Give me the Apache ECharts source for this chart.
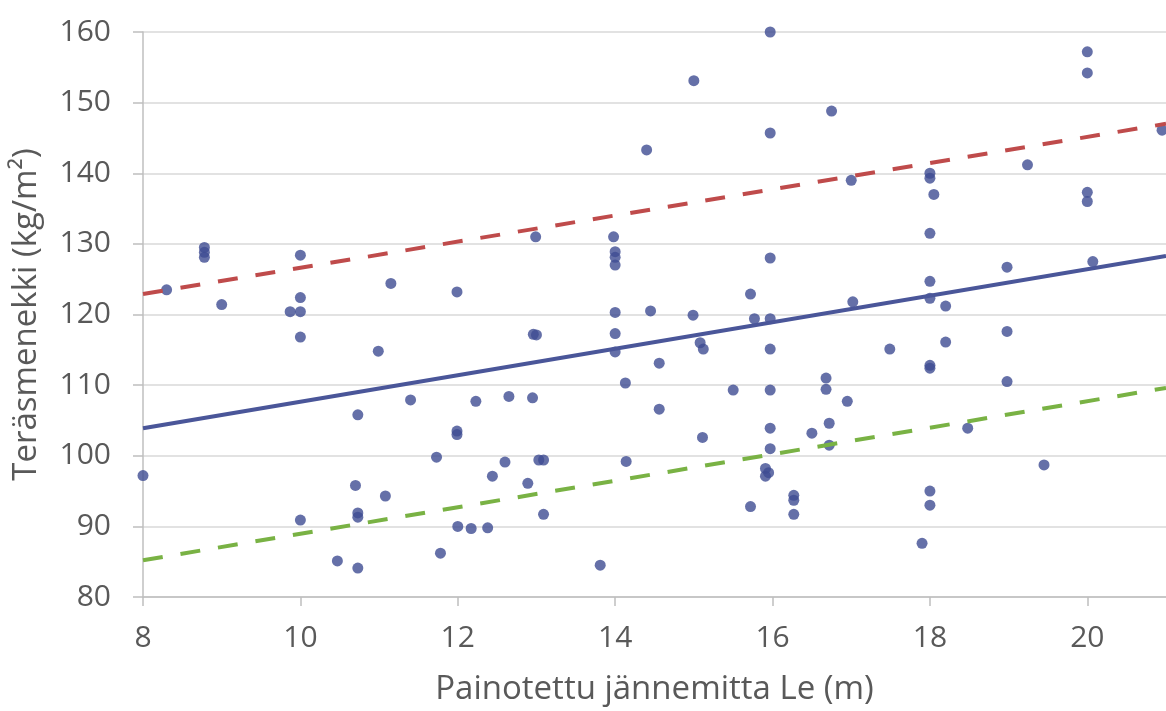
<!DOCTYPE html>
<html>
<head>
<meta charset="utf-8">
<script src="https://cdn.jsdelivr.net/npm/echarts@6/dist/echarts.min.js"></script>
<style>
  html, body { margin: 0; padding: 0; background: #fff; }
  #main { width: 1166px; height: 711px; }
</style>
</head>
<body>
<div id="main"></div>
<script>
// measured points: span Le (m) and steel use (kg/m2)
var spanX = [
    8.0, 8.3, 8.78, 8.78, 8.78, 9.0, 9.87, 10.0, 10.0, 10.0, 10.0, 10.0,
    10.47, 10.73, 10.7, 10.73, 10.73, 10.73, 10.99, 11.08, 11.15, 11.4, 11.73, 11.78,
    11.99, 11.99, 11.99, 12.0, 12.17, 12.23, 12.38, 12.44, 12.6, 12.65, 12.89, 12.95,
    12.96, 13.0, 12.99, 13.03, 13.09, 13.09, 13.81, 13.98, 14.0, 14.0, 14.0, 14.0,
    14.0, 14.0, 14.13, 14.14, 14.4, 14.45, 14.56, 14.56, 15.0, 14.99, 15.08, 15.12,
    15.11, 15.5, 15.72, 15.72, 15.77, 15.91, 15.95, 15.91, 15.97, 15.97, 15.97, 15.97,
    15.97, 15.97, 15.97, 15.97, 16.27, 16.27, 16.27, 16.5, 16.68, 16.68, 16.72, 16.72,
    16.75, 16.95, 17.0, 17.02, 17.49, 17.9, 18.0, 18.0, 18.05, 18.0, 18.0, 18.0,
    18.0, 18.0, 18.0, 18.0, 18.2, 18.2, 18.48, 18.98, 18.98, 18.98, 19.24, 19.45,
    20.0, 20.0, 20.0, 20.0, 20.07, 20.95
];
var steelY = [
    97.2, 123.5, 129.5, 128.8, 128.1, 121.4, 120.4, 120.4, 128.4, 122.4, 116.8, 90.9,
    85.1, 84.1, 95.8, 91.9, 91.3, 105.8, 114.8, 94.3, 124.4, 107.9, 99.8, 86.2,
    123.2, 103.5, 103.0, 90.0, 89.7, 107.7, 89.8, 97.1, 99.1, 108.4, 96.1, 108.2,
    117.2, 117.1, 131.0, 99.4, 99.4, 91.7, 84.5, 131.0, 128.9, 128.1, 127.0, 120.3,
    117.3, 114.7, 110.3, 99.2, 143.3, 120.5, 113.1, 106.6, 153.1, 119.9, 116.0, 115.1,
    102.6, 109.3, 122.9, 92.8, 119.4, 98.2, 97.6, 97.1, 160.0, 145.7, 128.0, 119.4,
    115.1, 109.3, 103.9, 101.0, 94.4, 93.7, 91.7, 103.2, 111.0, 109.4, 104.6, 101.5,
    148.8, 107.7, 139.0, 121.8, 115.1, 87.6, 140.0, 139.3, 137.0, 131.5, 124.7, 122.3,
    112.8, 112.4, 95.0, 93.0, 121.2, 116.1, 103.9, 126.7, 117.6, 110.5, 141.2, 98.7,
    157.2, 154.2, 137.3, 136.0, 127.5, 146.1
];

// trend line and its upper / lower bands, read at the ends of the axis
var lineX = [8, 21];
var trendY = [103.9, 128.3];
var upperY = [122.9, 147.0];
var lowerY = [85.2, 109.6];

var xTicks = [8, 10, 12, 14, 16, 18, 20];

function pairs(xs, ys) {
    return xs.map(function (x, i) { return [x, ys[i]]; });
}

var font = '"Open Sans", "Noto Sans", sans-serif';
var textGrey = '#595959';

var option;

option = {
    backgroundColor: '#fff',
    animation: false,
    grid: {
        left: 143,
        right: 0,
        top: 32,
        bottom: 114
    },
    xAxis: {
        type: 'value',
        min: 8,
        max: 21,
        interval: 2,
        name: 'Painotettu jännemitta Le (m)',
        nameLocation: 'middle',
        nameGap: 76,
        nameTextStyle: { color: textGrey, fontSize: 33, fontFamily: font },
        axisLine: { show: true, lineStyle: { color: '#bfbfbf', width: 1.5 } },
        axisTick: { show: true, length: 9, lineStyle: { color: '#bfbfbf', width: 1.5 } },
        axisLabel: {
            color: textGrey,
            fontSize: 30,
            fontFamily: font,
            margin: 26,
            showMaxLabel: false,
            formatter: function (v) {
                return xTicks.indexOf(v) >= 0 ? String(v) : '';
            }
        },
        splitLine: { show: false }
    },
    yAxis: {
        type: 'value',
        min: 80,
        max: 160,
        interval: 10,
        name: 'Teräsmenekki (kg/m²)',
        nameLocation: 'middle',
        nameGap: 100,
        nameTextStyle: { color: textGrey, fontSize: 33, fontFamily: font },
        axisLine: { show: true, lineStyle: { color: '#bfbfbf', width: 1.5 } },
        axisTick: { show: true, length: 10, lineStyle: { color: '#bfbfbf', width: 1.5 } },
        axisLabel: { color: textGrey, fontSize: 30, fontFamily: font, margin: 32 },
        splitLine: { show: true, lineStyle: { color: '#d9d9d9', width: 1.5 } }
    },
    series: [
        {
            name: 'Havainnot',
            type: 'scatter',
            symbol: 'circle',
            symbolSize: 11,
            itemStyle: { color: '#3e4c92' },
            data: pairs(spanX, steelY),
            z: 2
        },
        {
            name: 'Trendi',
            type: 'line',
            showSymbol: false,
            lineStyle: { color: '#4a5699', width: 4 },
            data: pairs(lineX, trendY),
            z: 3
        },
        {
            name: 'Yläraja',
            type: 'line',
            showSymbol: false,
            lineStyle: { color: '#bf4b4b', width: 4, type: [20, 18] },
            data: pairs(lineX, upperY),
            z: 3
        },
        {
            name: 'Alaraja',
            type: 'line',
            showSymbol: false,
            lineStyle: { color: '#79b244', width: 4, type: [20, 18] },
            data: pairs(lineX, lowerY),
            z: 3
        }
    ]
};

var chartDom = document.getElementById('main');
var myChart = echarts.init(chartDom);
option && myChart.setOption(option);
</script>
</body>
</html>
